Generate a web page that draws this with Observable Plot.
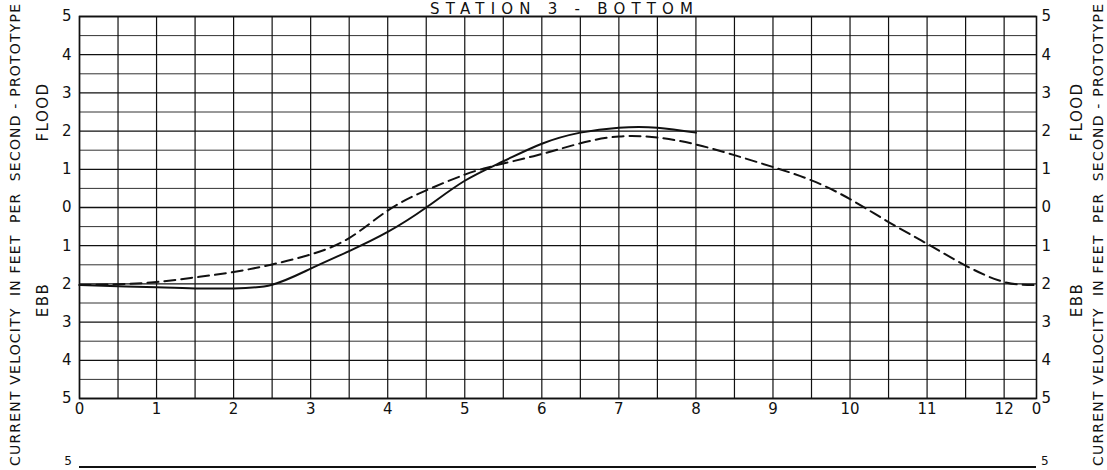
<!DOCTYPE html>
<html>
<head>
<meta charset="utf-8">
<script src="https://cdn.jsdelivr.net/npm/d3@7"></script>
<script src="https://cdn.jsdelivr.net/npm/@observablehq/plot@0.6"></script>
<style>
  html, body { margin: 0; padding: 0; background: #fff; }
  svg { display: block; }
</style>
</head>
<body>
<div id="chart"></div>
<script>
// Tide hours (0 .. one 12h25m tidal cycle)
const xTicks = [0, 1, 2, 3, 4, 5, 6, 7, 8, 9, 10, 11, 12, 12.42];
const xTickLabels = ["0", "1", "2", "3", "4", "5", "6", "7", "8", "9", "10", "11", "12", "0"];
const yTicks = [-5, -4, -3, -2, -1, 0, 1, 2, 3, 4, 5];

// Solid curve (velocity ft/s, flood positive, ebb negative)
const solidHours = [0, 0.5, 1.0, 1.5, 2.0, 2.5, 3.0, 3.5, 4.0, 4.5, 5.0, 5.5, 6.0, 6.5, 7.0, 7.5, 8.0];
const solidVel   = [-2.03, -2.06, -2.09, -2.12, -2.12, -2.02, -1.60, -1.14, -0.64, 0.0, 0.70, 1.21, 1.67, 1.96, 2.09, 2.09, 1.96];

// Dashed curve
const dashedHours = [0, 0.5, 1.0, 1.5, 2.0, 2.5, 3.0, 3.5, 4.0, 4.5, 5.0, 5.25, 5.5, 6.0, 6.5, 7.0, 7.5, 8.0, 8.5, 9.0, 9.5, 10.0, 10.5, 11.0, 11.5, 12.0, 12.42];
const dashedVel   = [-2.03, -2.01, -1.95, -1.83, -1.69, -1.49, -1.23, -0.80, -0.08, 0.45, 0.86, 1.02, 1.15, 1.40, 1.68, 1.86, 1.83, 1.65, 1.37, 1.06, 0.71, 0.22, -0.38, -0.95, -1.52, -1.95, -2.03];

const vGrid = d3.range(0, 12.01, 0.5);
const hGridMajor = d3.range(-5, 5.01, 1);
const hGridMinor = d3.range(-4.5, 4.6, 1);

const solidData = solidHours.map((h, i) => ({h, v: solidVel[i]}));
const dashedData = dashedHours.map((h, i) => ({h, v: dashedVel[i]}));

const font = "DejaVu Sans";

const chart = Plot.plot({
  width: 1107,
  height: 470,
  marginLeft: 79,
  marginRight: 71,
  marginTop: 16,
  marginBottom: 72,
  x: {domain: [0, 12.42]},
  y: {domain: [-5, 5]},
  style: {fontFamily: font, fontSize: "15px", background: "#fff", color: "#111"},
  marks: [
    Plot.ruleY(hGridMinor, {stroke: "#333", strokeWidth: 1}),
    Plot.ruleY(hGridMajor, {stroke: "#111", strokeWidth: 1.3}),
    Plot.ruleX(vGrid, {stroke: "#111", strokeWidth: 1.2}),
    Plot.frame({stroke: "#111", strokeWidth: 1.6}),
    Plot.line(solidData, {x: "h", y: "v", curve: "natural", stroke: "#111", strokeWidth: 2}),
    Plot.line(dashedData, {x: "h", y: "v", curve: "natural", stroke: "#111", strokeWidth: 2, strokeDasharray: "11,6"}),
    Plot.axisY(yTicks, {anchor: "left", tickFormat: d => String(Math.abs(d)), tickSize: 0, tickPadding: 8, label: null, fontSize: 15}),
    Plot.axisY(yTicks, {anchor: "right", tickFormat: d => String(Math.abs(d)), tickSize: 0, tickPadding: 5, label: null, fontSize: 15}),
    Plot.axisX(xTicks, {anchor: "bottom", tickFormat: (d, i) => xTickLabels[i], tickSize: 0, tickPadding: 5, label: null, fontSize: 15})
  ]
});

document.getElementById("chart").appendChild(chart);

// Annotations outside the plotting frame
const svg = d3.select(chart);
const g = svg.append("g").attr("font-family", font).attr("fill", "#111");

g.append("text").attr("x", 430).attr("y", 14).attr("text-anchor", "start")
  .attr("font-size", 15).attr("textLength", 263).attr("lengthAdjust", "spacing")
  .text("STATION 3 - BOTTOM");

const longLabel = "CURRENT VELOCITY  IN FEET  PER  SECOND - PROTOTYPE";
[20, 1103].forEach(x => {
  g.append("text").attr("transform", `translate(${x},466) rotate(-90)`)
    .attr("text-anchor", "start").attr("font-size", 14)
    .attr("textLength", 462).attr("lengthAdjust", "spacing")
    .text(longLabel);
});
[43, 1077].forEach(x => {
  g.append("text").attr("transform", `translate(${x},112) rotate(-90)`)
    .attr("text-anchor", "middle").attr("dominant-baseline", "middle")
    .attr("font-size", 15).attr("letter-spacing", 1.5).text("FLOOD");
  g.append("text").attr("transform", `translate(${x},300) rotate(-90)`)
    .attr("text-anchor", "middle").attr("dominant-baseline", "middle")
    .attr("font-size", 15).attr("letter-spacing", 1.5).text("EBB");
});

// top edge of the next panel below
g.append("line").attr("x1", 79).attr("x2", 1036).attr("y1", 467).attr("y2", 467)
  .attr("stroke", "#111").attr("stroke-width", 1.8);
g.append("text").attr("x", 72).attr("y", 465).attr("text-anchor", "end").attr("font-size", 12).text("5");
g.append("text").attr("x", 1041).attr("y", 465).attr("text-anchor", "start").attr("font-size", 12).text("5");
</script>
</body>
</html>
